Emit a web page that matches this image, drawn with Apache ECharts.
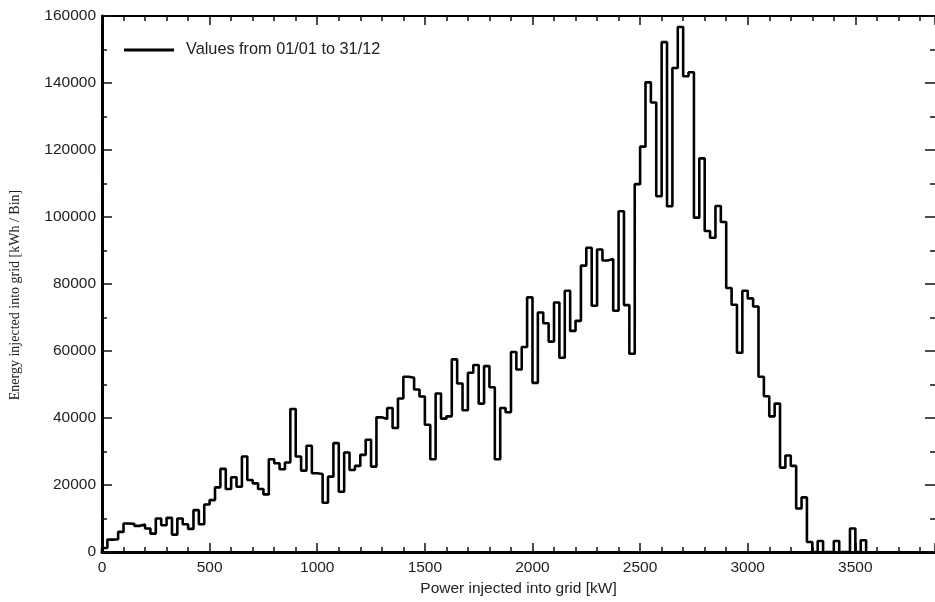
<!DOCTYPE html>
<html>
<head>
<meta charset="utf-8">
<script src="https://cdn.jsdelivr.net/npm/echarts@6/dist/echarts.min.js"></script>
<style>
  html, body { margin: 0; padding: 0; background: #fff; }
  #chart { width: 935px; height: 602px; }
</style>
</head>
<body>
<div id="chart"></div>
<script>
// energy per 25 kW bin
let binWidth = 25
let energyValues = [
  1200, 3700, 3800, 6000, 8500, 8400, 7800, 8200, 7000, 5500,
  10000, 8000, 10200, 5200, 10000, 8300, 6900, 12500, 8300, 14200,
  15500, 19300, 24800, 18800, 22300, 19500, 28500, 21500, 20500, 18800,
  17200, 27700, 26500, 24700, 26700, 42700, 28500, 24300, 31700, 23500,
  23300, 14700, 22500, 32500, 18000, 29700, 24500, 25700, 29000, 33500,
  25500, 40200, 39700, 43000, 37000, 45800, 52300, 52000, 48500, 46400,
  38000, 27700, 47300, 39800, 40500, 57500, 50300, 42300, 53500, 55800,
  44300, 55500, 49200, 27700, 43000, 41700, 59700, 54500, 61200, 76000,
  50500, 71500, 68300, 62800, 74500, 58000, 78000, 66000, 69000, 85500,
  90800, 73500, 90300, 87000, 87500, 72000, 101700, 73700, 59200, 109800,
  121000, 140200, 134200, 106200, 152200, 103200, 144500, 156700, 142000, 143200,
  99800, 117500, 95800, 93800, 103300, 98500, 78800, 73800, 59500, 78000,
  75700, 73300, 52300, 46500, 40500, 44300, 25200, 28800, 25700, 13000,
  16300, 3000, 0, 3300, 0, 0, 3300, 0, 0, 7000,
  0, 3500
]
let xTicks = [0, 500, 1000, 1500, 2000, 2500, 3000, 3500]
let yTicks = [0, 20000, 40000, 60000, 80000, 100000, 120000, 140000, 160000]
let legendName = 'Values from 01/01 to 31/12'

let stepData = [[0, 0]]
for (let i = 0; i < energyValues.length; i++) {
  stepData.push([i * binWidth, energyValues[i]])
}
stepData.push([energyValues.length * binWidth, 0])

let chart = echarts.init(document.getElementById('chart'))
let sans = 'Liberation Sans, Arial, sans-serif'
let tickCol = '#111'

let option = {
  backgroundColor: '#fff',
  animation: false,
  grid: { left: 99, right: -2, top: 16, bottom: 50 },
  legend: {
    left: 119,
    top: 37,
    icon: 'rect',
    itemWidth: 50,
    itemHeight: 3,
    itemStyle: { color: '#000' },
    textStyle: { fontFamily: sans, fontSize: 16.3, color: '#222', padding: [0, 0, 0, 7] },
    data: [legendName]
  },
  xAxis: [
    {
      type: 'value',
      min: 0,
      max: 3870,
      interval: 500,
      name: 'Power injected into grid [kW]',
      nameLocation: 'middle',
      nameGap: 29,
      nameTextStyle: { fontFamily: sans, fontSize: 15.5, color: '#222' },
      axisLine: { show: true, onZero: false, lineStyle: { color: '#000', width: 3 } },
      axisTick: { show: true, inside: true, length: 9, lineStyle: { color: tickCol, width: 1.5 } },
      minorTick: { show: true, splitNumber: 5, length: 5, lineStyle: { color: tickCol, width: 1.5 } },
      axisLabel: {
        fontFamily: sans, fontSize: 15.5, color: '#222', margin: 8,
        showMaxLabel: false,
        formatter: function (v) { return xTicks.indexOf(v) >= 0 ? String(v) : '' }
      },
      splitLine: { show: false }
    },
    {
      type: 'value',
      position: 'top',
      min: 0,
      max: 3870,
      interval: 500,
      axisLine: { show: true, onZero: false, lineStyle: { color: '#000', width: 2 } },
      axisTick: { show: true, inside: true, length: 9, lineStyle: { color: tickCol, width: 1.5 } },
      minorTick: { show: true, splitNumber: 5, length: 5, lineStyle: { color: tickCol, width: 1.5 } },
      axisLabel: { show: false },
      splitLine: { show: false }
    }
  ],
  yAxis: [
    {
      type: 'value',
      min: 0,
      max: 160000,
      interval: 20000,
      name: 'Energy injected into grid [kWh / Bin]',
      nameLocation: 'middle',
      nameGap: 80,
      nameTextStyle: {
        fontFamily: 'Liberation Serif, Times New Roman, serif', fontSize: 14, color: '#222',
        padding: [0, 22, 0, 0]
      },
      axisLine: { show: true, onZero: false, lineStyle: { color: '#000', width: 3 } },
      axisTick: { show: true, inside: true, length: 10, lineStyle: { color: tickCol, width: 1.5 } },
      minorTick: { show: true, splitNumber: 2, length: 5, lineStyle: { color: tickCol, width: 1.5 } },
      axisLabel: {
        fontFamily: sans, fontSize: 15.5, color: '#222', margin: 6,
        formatter: function (v) { return yTicks.indexOf(v) >= 0 ? String(v) : '' }
      },
      splitLine: { show: false }
    },
    {
      // right edge sits at the border of the picture: ticks only
      type: 'value',
      position: 'right',
      min: 0,
      max: 160000,
      interval: 20000,
      axisLine: { show: false, onZero: false },
      axisTick: { show: true, inside: true, length: 10, lineStyle: { color: tickCol, width: 1.5 } },
      minorTick: { show: true, splitNumber: 2, length: 5, lineStyle: { color: tickCol, width: 1.5 } },
      axisLabel: { show: false },
      splitLine: { show: false }
    }
  ],
  series: [
    {
      name: legendName,
      type: 'line',
      step: 'end',
      showSymbol: false,
      symbol: 'none',
      lineStyle: { color: '#000', width: 2.6 },
      itemStyle: { color: '#000' },
      data: stepData
    }
  ]
}
chart.setOption(option)
</script>
</body>
</html>
